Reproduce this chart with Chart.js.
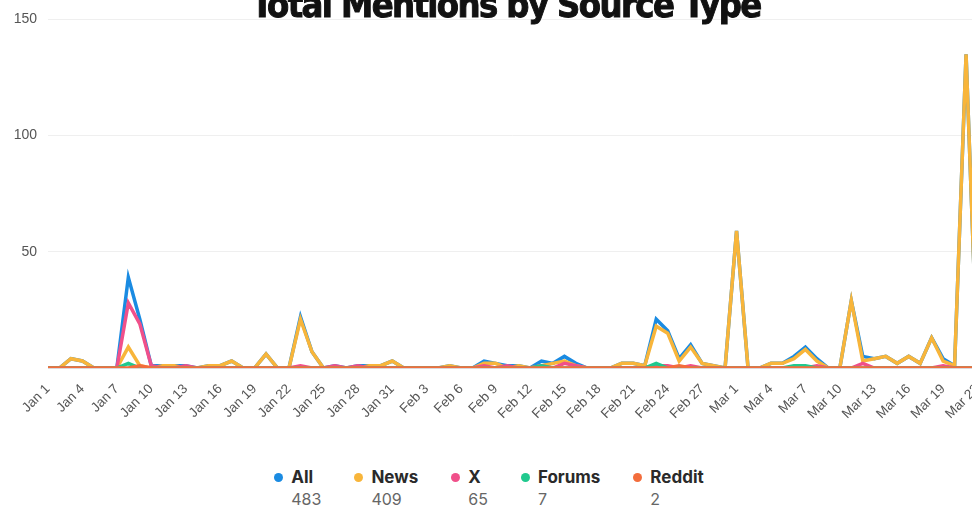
<!DOCTYPE html>
<html>
<head>
<meta charset="utf-8">
<script src="https://cdn.jsdelivr.net/npm/chart.js@4.4.1/dist/chart.umd.min.js"></script>
<style>
    html, body { margin: 0; padding: 0; background: #fff; width: 972px; height: 508px; overflow: hidden; }
    #wrap { position: relative; width: 972px; height: 508px; overflow: hidden; }
    #title {
        position: absolute; left: 0; width: 1012px; top: -13px; text-align: center;
        font-family: "DejaVu Sans Condensed", "DejaVu Sans", sans-serif; font-weight: 900;
        font-size: 36px; line-height: 36px; letter-spacing: -1.6px; color: #111;
        -webkit-text-stroke: 0.9px #111; z-index: 2;
    }
    #chartBox { position: absolute; left: 0; top: 0; width: 994px; height: 430px; }
    #legend {
        position: absolute; left: -2px; top: 467px; width: 982px;
        display: flex; justify-content: center; gap: 33px;
    }
    .leg-item { display: flex; align-items: flex-start; }
    .leg-dot { width: 9px; height: 9px; border-radius: 50%; margin-top: 6px; margin-right: 8px; }
    .leg-label { font-family: Inter, "Noto Sans", sans-serif; font-weight: 700; font-size: 17px; color: #2a2a2a; line-height: 21px; }
    .leg-count { font-family: Inter, "Noto Sans", sans-serif; font-size: 16px; color: #666; line-height: 22px; }
</style>
</head>
<body>
<div id="wrap">
    <div id="chartBox"><canvas id="chartMentions"></canvas></div>
    <div id="title">Total Mentions by Source Type</div>
    <div id="legend"></div>
</div>
<script>
// ---- dati ----
const giorni = [
    'Jan 1','Jan 2','Jan 3','Jan 4','Jan 5','Jan 6','Jan 7','Jan 8','Jan 9','Jan 10',
    'Jan 11','Jan 12','Jan 13','Jan 14','Jan 15','Jan 16','Jan 17','Jan 18','Jan 19','Jan 20',
    'Jan 21','Jan 22','Jan 23','Jan 24','Jan 25','Jan 26','Jan 27','Jan 28','Jan 29','Jan 30',
    'Jan 31','Feb 1','Feb 2','Feb 3','Feb 4','Feb 5','Feb 6','Feb 7','Feb 8','Feb 9',
    'Feb 10','Feb 11','Feb 12','Feb 13','Feb 14','Feb 15','Feb 16','Feb 17','Feb 18','Feb 19',
    'Feb 20','Feb 21','Feb 22','Feb 23','Feb 24','Feb 25','Feb 26','Feb 27','Feb 28','Feb 29',
    'Mar 1','Mar 2','Mar 3','Mar 4','Mar 5','Mar 6','Mar 7','Mar 8','Mar 9','Mar 10',
    'Mar 11','Mar 12','Mar 13','Mar 14','Mar 15','Mar 16','Mar 17','Mar 18','Mar 19','Mar 20',
    'Mar 21','Mar 22'
];

const serieAll = [
    0,0,4,3,0,0,0,39,21,1,  1,1,1,0,1,1,3,0,0,6,
    0,0,22,7,0,1,0,1,1,1,   3,0,0,0,0,1,0,0,3,2,
    1,1,0,3,2,5,2,0,0,0,    2,2,1,21,16,4,10,2,1,0,
    59,0,0,2,2,5,9,4,0,0,   29,5,4,5,2,5,2,13,4,1,
    135,0
];
const serieNews = [
    0,0,4,3,0,0,0,9,1,0,    1,1,0,0,1,1,3,0,0,6,
    0,0,21,7,0,0,0,0,1,1,   3,0,0,0,0,1,0,0,2,2,
    0,1,0,1,2,3,1,0,0,0,    2,2,1,18,15,3,9,2,1,0,
    59,0,0,2,2,4,8,3,0,0,   29,3,4,5,2,5,2,13,3,1,
    135,0
];
const serieX = [
    0,0,0,0,0,0,0,28,19,1,  0,0,1,0,0,0,0,0,0,0,
    0,0,1,0,0,1,0,1,0,0,    0,0,0,0,0,0,0,0,1,0,
    1,0,0,1,0,2,1,0,0,0,    0,0,0,1,1,0,1,0,0,0,
    0,0,0,0,0,0,0,1,0,0,    0,2,0,0,0,0,0,0,1,0,
    0,0
];
const serieForums = [
    0,0,0,0,0,0,0,2,0,0,    0,0,0,0,0,0,0,0,0,0,
    0,0,0,0,0,0,0,0,0,0,    0,0,0,0,0,0,0,0,0,0,
    0,0,0,1,0,0,0,0,0,0,    0,0,0,2,0,0,0,0,0,0,
    0,0,0,0,0,1,1,0,0,0,    0,0,0,0,0,0,0,0,0,0,
    0,0
];
const serieReddit = [
    0,0,0,0,0,0,0,0,1,0,    0,0,0,0,0,0,0,0,0,0,
    0,0,0,0,0,0,0,0,0,0,    0,0,0,0,0,0,0,0,0,0,
    0,0,0,0,0,0,0,0,0,0,    0,0,0,0,0,1,0,0,0,0,
    0,0,0,0,0,0,0,0,0,0,    0,0,0,0,0,0,0,0,0,0,
    0,0
];

const nomiSerie = ['All', 'News', 'X', 'Forums', 'Reddit'];
const totaliSerie = [483, 409, 65, 7, 2];
const coloriSerie = ['#1a8be2', '#f8b53a', '#f0508a', '#20c98e', '#f36d3c'];
const yTicks = [0, 50, 100, 150];

document.addEventListener('DOMContentLoaded', function() {
    generaLegenda();
    generaGrafico();
});

function generaLegenda() {
    const box = document.getElementById('legend');
    box.innerHTML = nomiSerie.map((nome, i) => `
        <div class="leg-item">
            <div class="leg-dot" style="background: ${coloriSerie[i]};"></div>
            <div>
                <div class="leg-label">${nome}</div>
                <div class="leg-count">${totaliSerie[i]}</div>
            </div>
        </div>
    `).join('');
}

function generaGrafico() {
    const ctx = document.getElementById('chartMentions');
    const valori = [serieAll, serieNews, serieX, serieForums, serieReddit];

    new Chart(ctx, {
        type: 'line',
        data: {
            labels: giorni,
            datasets: nomiSerie.map((nome, i) => ({
                label: nome,
                data: valori[i],
                borderColor: coloriSerie[i],
                backgroundColor: coloriSerie[i],
                borderWidth: 3.5,
                pointRadius: 0,
                tension: 0,
                fill: false,
                order: nomiSerie.length - i
            }))
        },
        options: {
            responsive: true,
            maintainAspectRatio: false,
            animation: false,
            layout: { padding: { left: 8, right: 0, top: 8, bottom: 2 } },
            plugins: {
                legend: { display: false },
                tooltip: { enabled: false }
            },
            scales: {
                x: {
                    grid: { display: false },
                    border: { display: true, color: '#d9d9d9', width: 1 },
                    ticks: {
                        autoSkip: false,
                        minRotation: 45,
                        maxRotation: 45,
                        padding: 5,
                        color: '#555',
                        font: { family: 'Liberation Sans', size: 13.5 },
                        callback: function(v, i) { return i % 3 === 0 ? giorni[i] : ''; }
                    },
                    afterFit: function(scale) { scale.height = 60; }
                },
                y: {
                    min: 0,
                    max: 150,
                    afterBuildTicks: function(scale) { scale.ticks = yTicks.map(v => ({ value: v })); },
                    grid: { color: '#efefef', lineWidth: 1, drawTicks: false },
                    border: { display: false },
                    ticks: {
                        color: '#555',
                        padding: 11,
                        font: { family: 'Liberation Sans', size: 14 },
                        callback: function(v) { return v === 0 ? '' : v; }
                    },
                    afterFit: function(scale) { scale.width = 40; }
                }
            }
        }
    });
}
</script>
</body>
</html>
